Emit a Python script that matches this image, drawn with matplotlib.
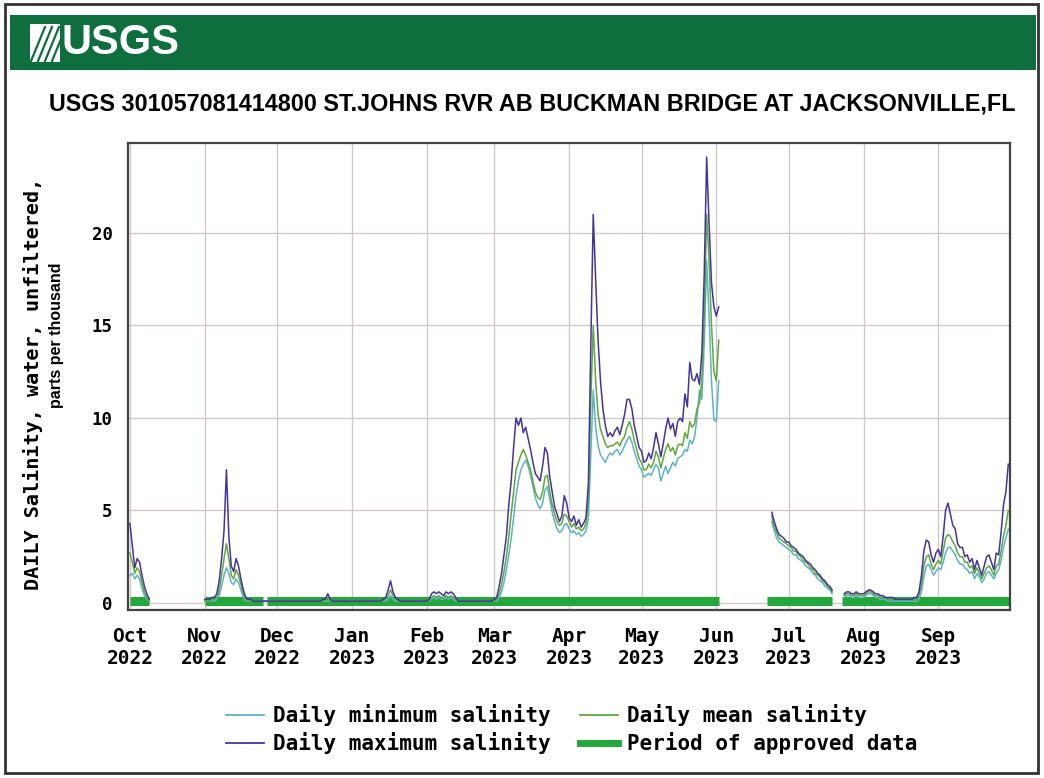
import matplotlib
matplotlib.use("Agg")
import matplotlib.pyplot as plt
import matplotlib.dates as mdates
from matplotlib.lines import Line2D
from matplotlib.patches import Rectangle
import pandas as pd

# daily salinity, parts per thousand
oct_max = [4.3, 3.1, 1.9, 2.4, 2.2, 1.5, 0.9, 0.5, 0.2]
oct_mean = [2.7, 2.2, 1.6, 1.9, 1.7, 1.1, 0.6, 0.3, 0.1]
oct_min = [1.5, 1.6, 1.3, 1.5, 1.3, 0.8, 0.4, 0.2, 0.1]

nov_max = [0.2, 0.2, 0.2, 0.3, 0.3, 0.5, 1.2, 2.4, 3.9, 7.2, 3.6, 2.0, 1.7, 2.4, 2.0,
           1.3, 0.7, 0.3, 0.2, 0.2, 0.1, 0.1, 0.1, 0.1, 0.1, 0.1, 0.1, 0.1, 0.1, 0.1]
nov_mean = [0.1, 0.1, 0.1, 0.2, 0.2, 0.3, 0.7, 1.5, 2.4, 3.2, 2.4, 1.5, 1.3, 1.8, 1.5,
            1.0, 0.5, 0.2, 0.1, 0.1, 0.1, 0.1, 0.1, 0.1, 0.1, 0.1, 0.1, 0.1, 0.1, 0.1]
nov_min = [0.1, 0.1, 0.1, 0.1, 0.1, 0.2, 0.4, 0.9, 1.5, 1.9, 1.6, 1.1, 1.0, 1.3, 1.1,
           0.7, 0.3, 0.1, 0.1, 0.1, 0.1, 0.1, 0.1, 0.1, 0.1, 0.1, 0.1, 0.1, 0.1, 0.1]

dec_max = [0.1, 0.1, 0.1, 0.1, 0.1, 0.1, 0.1, 0.1, 0.1, 0.1, 0.1, 0.1, 0.1, 0.1, 0.1, 0.1,
           0.1, 0.1, 0.1, 0.2, 0.2, 0.5, 0.2, 0.1, 0.1, 0.1, 0.1, 0.1, 0.1, 0.1, 0.1]
dec_mean = [0.1, 0.1, 0.1, 0.1, 0.1, 0.1, 0.1, 0.1, 0.1, 0.1, 0.1, 0.1, 0.1, 0.1, 0.1, 0.1,
            0.1, 0.1, 0.1, 0.1, 0.1, 0.3, 0.1, 0.1, 0.1, 0.1, 0.1, 0.1, 0.1, 0.1, 0.1]
dec_min = [0.1, 0.1, 0.1, 0.1, 0.1, 0.1, 0.1, 0.1, 0.1, 0.1, 0.1, 0.1, 0.1, 0.1, 0.1, 0.1,
           0.1, 0.1, 0.1, 0.1, 0.1, 0.1, 0.1, 0.1, 0.1, 0.1, 0.1, 0.1, 0.1, 0.1, 0.1]

jan_max = [0.1, 0.1, 0.1, 0.1, 0.1, 0.1, 0.1, 0.1, 0.1, 0.1, 0.1, 0.1, 0.1, 0.2, 0.3, 0.7,
           1.2, 0.6, 0.3, 0.2, 0.1, 0.1, 0.1, 0.1, 0.1, 0.1, 0.1, 0.1, 0.1, 0.1, 0.1]
jan_mean = [0.1, 0.1, 0.1, 0.1, 0.1, 0.1, 0.1, 0.1, 0.1, 0.1, 0.1, 0.1, 0.1, 0.1, 0.2, 0.4,
            0.7, 0.4, 0.2, 0.1, 0.1, 0.1, 0.1, 0.1, 0.1, 0.1, 0.1, 0.1, 0.1, 0.1, 0.1]
jan_min = [0.1, 0.1, 0.1, 0.1, 0.1, 0.1, 0.1, 0.1, 0.1, 0.1, 0.1, 0.1, 0.1, 0.1, 0.1, 0.2,
           0.4, 0.2, 0.1, 0.1, 0.1, 0.1, 0.1, 0.1, 0.1, 0.1, 0.1, 0.1, 0.1, 0.1, 0.1]

feb_max = [0.1, 0.2, 0.5, 0.6, 0.5, 0.6, 0.5, 0.4, 0.6, 0.5, 0.6, 0.5, 0.3, 0.1,
           0.1, 0.1, 0.1, 0.1, 0.1, 0.1, 0.1, 0.1, 0.1, 0.1, 0.1, 0.1, 0.1, 0.1]
feb_mean = [0.1, 0.1, 0.3, 0.4, 0.3, 0.4, 0.3, 0.3, 0.4, 0.3, 0.4, 0.3, 0.2, 0.1,
            0.1, 0.1, 0.1, 0.1, 0.1, 0.1, 0.1, 0.1, 0.1, 0.1, 0.1, 0.1, 0.1, 0.1]
feb_min = [0.1, 0.1, 0.2, 0.3, 0.2, 0.3, 0.2, 0.2, 0.3, 0.2, 0.3, 0.2, 0.1, 0.1,
           0.1, 0.1, 0.1, 0.1, 0.1, 0.1, 0.1, 0.1, 0.1, 0.1, 0.1, 0.1, 0.1, 0.1]

mar_max = [0.2, 0.3, 0.9, 1.6, 2.6, 3.6, 5.3, 6.6, 8.4, 10.0, 9.6, 10.0, 9.2, 9.5, 8.9, 8.3,
           7.6, 7.0, 6.8, 6.6, 7.4, 8.4, 8.1, 6.8, 6.0, 5.2, 4.8, 4.4, 4.7, 5.8, 5.4]
mar_mean = [0.1, 0.2, 0.5, 1.0, 1.7, 2.5, 3.6, 4.8, 6.0, 7.2, 7.6, 8.0, 8.3, 8.0, 7.6, 7.2,
            6.6, 6.0, 5.7, 5.6, 6.0, 6.8, 6.9, 6.0, 5.3, 4.8, 4.4, 4.2, 4.3, 4.8, 4.7]
mar_min = [0.1, 0.1, 0.3, 0.6, 1.1, 1.8, 2.6, 3.5, 4.6, 5.8, 6.6, 7.2, 7.5, 7.7, 7.4, 6.9,
           6.3, 5.7, 5.3, 5.1, 5.4, 6.1, 6.3, 5.6, 4.9, 4.4, 4.0, 3.8, 3.9, 4.2, 4.3]

apr_max = [4.6, 4.4, 4.7, 4.2, 4.5, 4.1, 4.3, 4.6, 6.5, 14.0, 21.0, 17.5, 14.2, 12.0, 10.5,
           9.6, 9.0, 9.2, 9.0, 9.3, 9.5, 9.1, 9.6, 10.2, 11.0, 11.0, 10.5, 9.6, 9.0, 8.4]
apr_mean = [4.4, 4.1, 4.3, 4.0, 4.1, 3.9, 4.0, 4.3, 5.5, 11.0, 15.0, 12.0, 10.2, 9.4, 9.0,
            8.6, 8.4, 8.5, 8.5, 8.6, 8.7, 8.5, 8.8, 9.0, 9.5, 9.8, 9.4, 8.8, 8.3, 7.8]
apr_min = [4.0, 3.8, 3.9, 3.7, 3.8, 3.6, 3.7, 3.9, 4.6, 8.0, 11.5, 9.5, 8.5, 8.0, 7.8,
           7.6, 7.9, 8.1, 8.0, 8.2, 8.3, 8.0, 8.2, 8.5, 8.8, 9.0, 8.7, 8.2, 7.8, 7.4]

may_max = [8.2, 7.6, 7.7, 8.1, 7.8, 8.4, 9.2, 8.6, 7.9, 8.6, 9.4, 10.0, 9.4, 9.7, 9.0, 9.8,
           10.0, 9.8, 11.3, 10.6, 13.0, 12.1, 12.0, 12.4, 11.8, 13.5, 17.8, 24.1, 20.5, 17.3, 16.0]
may_mean = [7.6, 7.2, 7.2, 7.5, 7.3, 7.6, 8.2, 7.9, 7.3, 7.8, 8.3, 8.6, 8.2, 8.4, 8.0, 8.5,
            8.6, 8.5, 9.2, 8.9, 9.8, 9.5, 9.7, 10.5, 10.8, 12.0, 15.5, 21.0, 18.5, 15.0, 12.5]
may_min = [7.2, 6.8, 6.9, 7.0, 6.9, 7.2, 7.5, 7.3, 6.6, 7.0, 7.4, 7.0, 7.3, 7.6, 7.4, 7.8,
           7.9, 8.0, 8.3, 8.2, 8.8, 8.6, 9.0, 10.0, 11.5, 11.0, 14.0, 18.5, 15.5, 12.0, 9.9]

jun_max = [15.5, 16.0]
jun_mean = [12.0, 14.2]
jun_min = [9.8, 12.0]

# Jun 24 - Jul 19 2023
summer_max = [4.9, 4.4, 4.0, 3.7, 3.6, 3.5, 3.3, 3.3, 3.1, 3.0, 2.9, 2.7, 2.6, 2.5, 2.3,
              2.2, 2.1, 1.9, 1.8, 1.6, 1.5, 1.3, 1.2, 1.0, 0.9, 0.7]
summer_mean = [4.7, 4.1, 3.8, 3.5, 3.4, 3.3, 3.2, 3.1, 3.0, 2.8, 2.8, 2.6, 2.5, 2.3, 2.2,
               2.1, 1.9, 1.8, 1.6, 1.5, 1.4, 1.2, 1.1, 0.9, 0.8, 0.6]
summer_min = [4.4, 3.9, 3.5, 3.3, 3.2, 3.1, 3.0, 2.9, 2.8, 2.6, 2.6, 2.4, 2.3, 2.2, 2.0,
              1.9, 1.8, 1.6, 1.5, 1.3, 1.2, 1.1, 0.9, 0.8, 0.7, 0.5]

# Jul 24 - Aug 31 2023
aug_max = [0.5, 0.6, 0.6, 0.5, 0.5, 0.6, 0.5, 0.5,
           0.5, 0.6, 0.7, 0.7, 0.6, 0.5, 0.5, 0.4, 0.4, 0.3, 0.3, 0.3, 0.3, 0.2, 0.2, 0.2,
           0.2, 0.2, 0.2, 0.2, 0.2, 0.3, 0.3, 0.6, 1.5, 2.8, 3.4, 3.3, 2.6, 2.2, 2.7]
aug_mean = [0.4, 0.5, 0.5, 0.4, 0.4, 0.5, 0.4, 0.4,
            0.4, 0.5, 0.6, 0.6, 0.5, 0.4, 0.4, 0.3, 0.3, 0.3, 0.2, 0.2, 0.2, 0.2, 0.2, 0.2,
            0.2, 0.2, 0.2, 0.2, 0.2, 0.2, 0.2, 0.4, 1.0, 2.0, 2.5, 2.6, 2.1, 1.8, 2.1]
aug_min = [0.3, 0.4, 0.4, 0.3, 0.3, 0.4, 0.3, 0.3,
           0.3, 0.4, 0.5, 0.5, 0.4, 0.3, 0.3, 0.2, 0.2, 0.2, 0.1, 0.1, 0.1, 0.1, 0.1, 0.1,
           0.1, 0.1, 0.1, 0.1, 0.1, 0.1, 0.1, 0.2, 0.6, 1.4, 2.0, 2.1, 1.8, 1.5, 1.7]

sep_max = [2.9, 2.5, 3.6, 5.0, 5.4, 4.8, 4.2, 4.0, 3.2, 3.0, 3.0, 2.5, 2.6, 2.2, 2.4,
           1.8, 2.3, 1.9, 1.5, 2.0, 2.5, 2.6, 2.2, 1.8, 2.7, 2.6, 3.8, 5.3, 6.0, 7.5]
sep_mean = [2.3, 2.1, 2.8, 3.5, 3.7, 3.6, 3.3, 3.1, 2.7, 2.5, 2.5, 2.2, 2.2, 1.9, 2.0,
            1.6, 1.9, 1.6, 1.3, 1.6, 1.9, 2.0, 1.8, 1.5, 2.0, 2.1, 2.8, 3.6, 4.2, 5.0]
sep_min = [1.9, 1.8, 2.2, 2.7, 3.0, 3.0, 2.8, 2.6, 2.3, 2.1, 2.1, 1.9, 1.8, 1.6, 1.7,
           1.3, 1.6, 1.4, 1.1, 1.3, 1.6, 1.7, 1.5, 1.3, 1.6, 1.8, 2.3, 3.0, 3.5, 4.0]

# continuous pieces of record (start date, values)
segments = [
    ("2022-10-01", oct_max, oct_mean, oct_min),
    ("2022-11-01",
     nov_max + dec_max + jan_max + feb_max + mar_max + apr_max + may_max + jun_max,
     nov_mean + dec_mean + jan_mean + feb_mean + mar_mean + apr_mean + may_mean + jun_mean,
     nov_min + dec_min + jan_min + feb_min + mar_min + apr_min + may_min + jun_min),
    ("2023-06-24", summer_max, summer_mean, summer_min),
    ("2023-07-24", aug_max + sep_max, aug_mean + sep_mean, aug_min + sep_min),
]

approved_start = ["2022-10-01", "2022-11-01", "2022-11-27", "2023-06-22", "2023-07-23"]
approved_end = ["2022-10-09", "2022-11-25", "2023-06-02", "2023-07-19", "2023-09-30 18:00"]

month_ticks = pd.date_range("2022-10-01", "2023-09-01", freq="MS")

c_min = "#5db4c6"
c_mean = "#5fa83a"
c_max = "#4533a0"
c_ok = "#22a83a"

fig = plt.figure(figsize=(10.44, 7.78), dpi=100)
W, H = 1044.0, 778.0

# page frame and USGS banner
fig.patches.append(Rectangle((5 / W, 1 - 773 / H), 1033 / W, 769 / H, transform=fig.transFigure,
                             fill=False, edgecolor="#333333", lw=2))
fig.patches.append(Rectangle((10 / W, 1 - 70 / H), 1026 / W, 55 / H, transform=fig.transFigure,
                             facecolor="#0f6e3e", edgecolor="none"))
fig.patches.append(Rectangle((30 / W, 1 - 62 / H), 30 / W, 38 / H, transform=fig.transFigure,
                             facecolor="white", edgecolor="none"))
for k in range(4):
    fig.lines.append(Line2D([(31 + 7 * k) / W, (45 + 7 * k) / W], [1 - 61 / H, 1 - 27 / H],
                            transform=fig.transFigure, color="#0f6e3e", lw=1.6))
fig.text(62 / W, 1 - 43 / H, "USGS", color="white", fontsize=30, fontweight="bold",
         family="Liberation Sans", va="center", ha="left")

fig.text(532 / W, 1 - 104 / H,
         "USGS 301057081414800 ST.JOHNS RVR AB BUCKMAN BRIDGE AT JACKSONVILLE,FL",
         fontsize=16.8, fontweight="bold", family="Liberation Sans", ha="center", va="center")

ax = fig.add_axes([128 / W, 1 - 610 / H, 882 / W, 467 / H])

for s, e in zip(approved_start, approved_end):
    ax.plot([pd.Timestamp(s), pd.Timestamp(e)], [0.08, 0.08], color=c_ok, lw=6.5,
            solid_capstyle="butt", zorder=2)

for start, vmax, vmean, vmin in segments:
    days = pd.date_range(start, periods=len(vmax), freq="D")
    ax.plot(days, vmin, color=c_min, lw=1.1, zorder=3)
    ax.plot(days, vmean, color=c_mean, lw=1.1, zorder=4)
    ax.plot(days, vmax, color=c_max, lw=1.1, zorder=5)

ax.set_xlim(pd.Timestamp("2022-10-01") - pd.Timedelta(hours=19),
            pd.Timestamp("2022-10-01") + pd.Timedelta(days=364.7))
ax.set_ylim(-0.38, 24.86)
ax.set_yticks([0, 5, 10, 15, 20])
ax.set_xticks(month_ticks)
ax.xaxis.set_major_formatter(mdates.DateFormatter("%b\n%Y"))
ax.grid(True, color="#d2c8c8", lw=1)
ax.tick_params(axis="both", length=0)
ax.tick_params(axis="x", pad=12)
ax.tick_params(axis="y", pad=11)
for lab in ax.get_xticklabels():
    lab.set_family("DejaVu Sans Mono")
    lab.set_fontweight("bold")
    lab.set_fontsize(14)
for lab in ax.get_yticklabels():
    lab.set_family("DejaVu Sans Mono")
    lab.set_fontweight("bold")
    lab.set_fontsize(12.5)
for sp in ax.spines.values():
    sp.set_color("#444444")
    sp.set_linewidth(1.6)

fig.text(33 / W, 1 - 384 / H, "DAILY Salinity, water, unfiltered,", rotation=90,
         family="DejaVu Sans Mono", fontweight="bold", fontsize=14.5, ha="center", va="center")
fig.text(57 / W, 1 - 335 / H, "parts per thousand", rotation=90,
         family="Liberation Sans", fontweight="bold", fontsize=11.5, ha="center", va="center")

handles = [
    Line2D([], [], color=c_min, lw=1.3),
    Line2D([], [], color=c_max, lw=1.3),
    Line2D([], [], color=c_mean, lw=1.3),
    Line2D([], [], color=c_ok, lw=5),
]
labels = ["Daily minimum salinity", "Daily maximum salinity",
          "Daily mean salinity", "Period of approved data"]
fig.legend(handles, labels, ncol=2, loc="center", bbox_to_anchor=(572 / W, 1 - 729 / H),
           frameon=False, prop={"family": "DejaVu Sans Mono", "weight": "bold", "size": 15},
           handlelength=1.8, handletextpad=0.45, columnspacing=1.4, labelspacing=0.3)

fig.savefig("out.png", dpi=100)
